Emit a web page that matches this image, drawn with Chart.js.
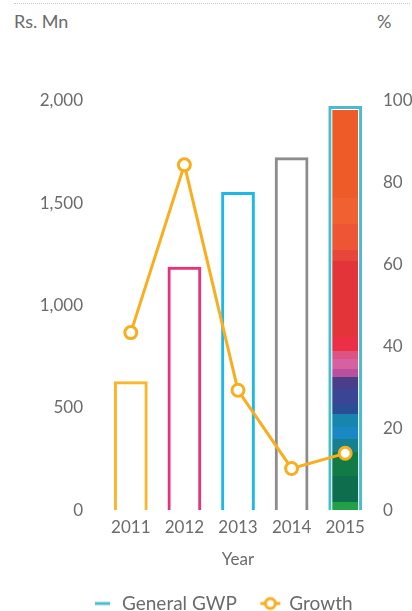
<!DOCTYPE html>
<html>
<head>
<meta charset="utf-8">
<script src="https://cdn.jsdelivr.net/npm/chart.js@4.4.1/dist/chart.umd.min.js"></script>
<style>
  html, body { margin: 0; padding: 0; background: #fff; }
  #wrap { position: relative; width: 412px; height: 611px; font-family: Lato, "Open Sans", sans-serif; }
  #rule { position: absolute; left: 14px; right: 2px; top: 3px; border-top: 1px dotted #c8c8c8; }
  .unit { position: absolute; top: 10px; font-size: 18px; color: #6b6b6b; }
  #unitLeft { left: 14px; }
  #unitRight { left: 377px; }
  canvas { position: absolute; left: 0; top: 0; }
</style>
</head>
<body>
<div id="wrap">
  <div id="rule"></div>
  <div class="unit" id="unitLeft">Rs. Mn</div>
  <div class="unit" id="unitRight">%</div>
  <canvas id="c" width="412" height="611"></canvas>
</div>
<script>
// Gross written premium (Rs. Mn) and year-on-year growth (%)
const years = ['2011', '2012', '2013', '2014', '2015'];
const gwp = [630, 1190, 1555, 1725, 1975];
const growth = [43.4, 84.4, 29.3, 10.2, 13.9];

const barColors = ['#FBB52A', '#E8317A', '#1CB8E8', '#8C8C8C', '#4BBCCB'];
const lineColor = '#F8AE1F';
const textColor = '#6b6b6b';

// Bands of colour for the latest year's bar, top to bottom (fraction of bar height)
const mosaic = [
  [0.00, '#EE5A28'], [0.22, '#F06030'], [0.285, '#EE5535'], [0.35, '#E8463A'],
  [0.378, '#E3343A'], [0.568, '#EC2F47'], [0.603, '#DC5484'], [0.623, '#D660A0'],
  [0.648, '#BC4E9E'], [0.668, '#4A3E88'], [0.698, '#3B4595'], [0.735, '#2A4D96'],
  [0.76, '#1686AE'], [0.793, '#1B88C6'], [0.823, '#17808F'], [0.855, '#117A45'],
  [0.915, '#0E6D4D'], [0.98, '#22A048']
];

const mosaicFill = {
  id: 'mosaicFill',
  afterDatasetDraw(chart, args) {
    if (args.index !== 0) return;
    const bar = args.meta.data[years.length - 1];
    if (!bar) return;
    const ctx = chart.ctx;
    const inset = 4;
    const left = bar.x - bar.width / 2 + inset;
    const right = bar.x + bar.width / 2 - inset;
    const top = bar.y + inset;
    const bottom = bar.base;
    const h = bottom - top;
    ctx.save();
    for (let i = 0; i < mosaic.length; i++) {
      const f0 = mosaic[i][0];
      const f1 = i + 1 < mosaic.length ? mosaic[i + 1][0] : 1;
      const y0 = Math.round(top + f0 * h);
      const y1 = Math.round(top + f1 * h);
      ctx.fillStyle = mosaic[i][1];
      ctx.fillRect(left, y0, right - left, y1 - y0);
    }
    ctx.restore();
  }
};

function legendIcon(withCircle, color) {
  const c = document.createElement('canvas');
  c.width = 22; c.height = 16;
  const g = c.getContext('2d');
  g.strokeStyle = color;
  g.lineWidth = 3;
  g.beginPath();
  if (withCircle) {
    g.moveTo(1, 8); g.lineTo(21, 8);
  } else {
    g.moveTo(3, 8); g.lineTo(18, 8);
  }
  g.stroke();
  if (withCircle) {
    g.fillStyle = '#fff';
    g.beginPath();
    g.arc(11, 8, 5, 0, Math.PI * 2);
    g.fill();
    g.stroke();
  }
  return c;
}

Chart.defaults.font.family = 'Lato, "Open Sans", sans-serif';
Chart.defaults.font.size = 17;
Chart.defaults.color = textColor;

new Chart(document.getElementById('c'), {
  data: {
    labels: years,
    datasets: [
      {
        type: 'bar',
        label: 'General GWP',
        data: gwp,
        yAxisID: 'y',
        order: 1,
        backgroundColor: 'rgba(0,0,0,0)',
        borderColor: barColors,
        borderWidth: 3,
        borderSkipped: 'start',
        categoryPercentage: 1,
        barPercentage: 0.63
      },
      {
        type: 'line',
        label: 'Growth',
        data: growth,
        yAxisID: 'y1',
        order: 0,
        borderColor: lineColor,
        borderWidth: 3,
        pointRadius: 6,
        pointBorderWidth: 3,
        pointBackgroundColor: '#fff',
        pointBorderColor: lineColor,
        tension: 0
      }
    ]
  },
  options: {
    responsive: false,
    animation: false,
    layout: { padding: { top: 101, bottom: -12, left: 34 } },
    plugins: {
      tooltip: { enabled: false },
      legend: {
        position: 'bottom',
        labels: {
          usePointStyle: true,
          padding: 24,
          font: { size: 19 },
          generateLabels() {
            return [
              { text: 'General GWP', pointStyle: legendIcon(false, '#4BBCCB'), fontColor: textColor, datasetIndex: 0 },
              { text: 'Growth', pointStyle: legendIcon(true, lineColor), fontColor: textColor, datasetIndex: 1 }
            ];
          }
        }
      }
    },
    scales: {
      x: {
        grid: { display: false, drawTicks: false },
        border: { display: false },
        ticks: { padding: 7, font: { size: 17 } },
        title: { display: true, text: 'Year', font: { size: 17 }, padding: { top: 5, bottom: 0 } }
      },
      y: {
        position: 'left',
        min: 0, max: 2000,
        grid: { display: false, drawTicks: false },
        border: { display: false },
        ticks: { stepSize: 500, padding: 21, font: { size: 17 } },
        afterFit(s) { s.width = 70; }
      },
      y1: {
        position: 'right',
        min: 0, max: 100,
        grid: { display: false, drawTicks: false },
        border: { display: false },
        ticks: { stepSize: 20, padding: 11, font: { size: 17 } },
        afterFit(s) { s.width = 40; }
      }
    }
  },
  plugins: [mosaicFill]
});
</script>
</body>
</html>
